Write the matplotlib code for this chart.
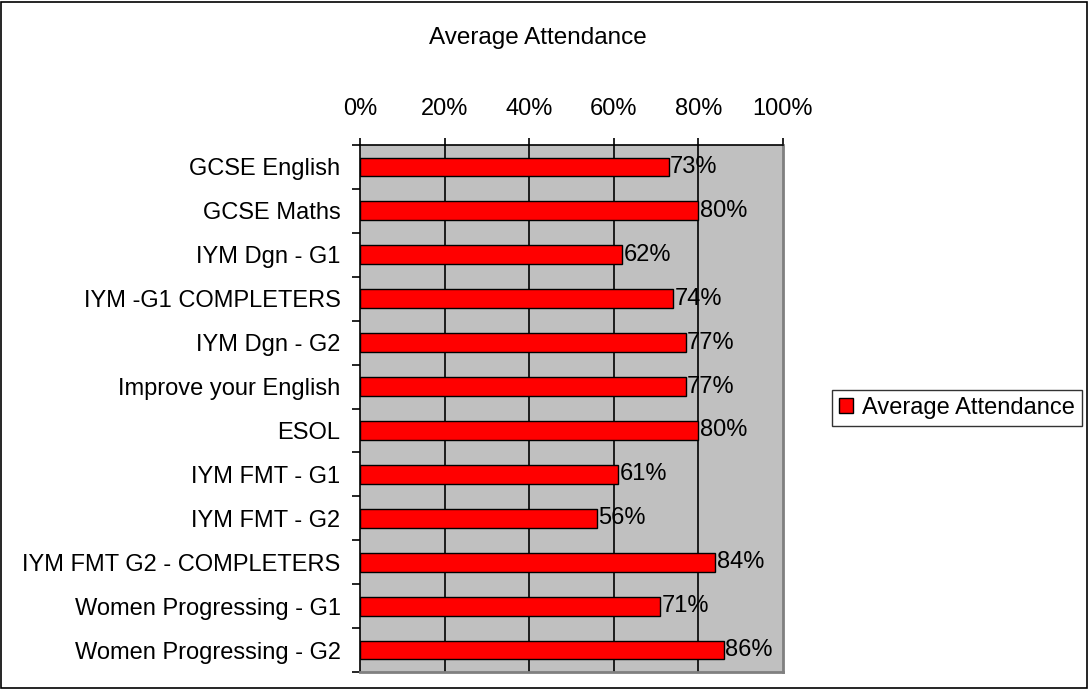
import matplotlib.pyplot as plt
from matplotlib.patches import Rectangle

plt.rcParams['font.family'] = ['Liberation Sans', 'DejaVu Sans']

courses = ['GCSE English', 'GCSE Maths', 'IYM Dgn - G1', 'IYM -G1 COMPLETERS',
           'IYM Dgn - G2', 'Improve your English', 'ESOL', 'IYM FMT - G1',
           'IYM FMT - G2', 'IYM FMT G2 - COMPLETERS', 'Women Progressing - G1',
           'Women Progressing - G2']
attendance = [73, 80, 62, 74, 77, 77, 80, 61, 56, 84, 71, 86]
ticks = [0, 20, 40, 60, 80, 100]

fs = 17

fig = plt.figure(figsize=(10.89, 6.89), dpi=100)
ax = fig.add_axes([360 / 1089, 1 - 672 / 689, 423 / 1089, 527 / 689])

ypos = list(range(len(courses)))
bars = ax.barh(ypos, attendance, height=0.43, color='#ff0000', edgecolor='black',
               linewidth=1, label='Average Attendance', zorder=3)
for y, v in zip(ypos, attendance):
    ax.text(v + 0.3, y, f'{v}%', va='center', ha='left', fontsize=fs, zorder=4)

ax.set_xlim(0, 100)
ax.set_ylim(len(courses) - 0.5, -0.5)
ax.set_facecolor('#c0c0c0')
ax.set_xticks(ticks)
ax.set_xticklabels([f'{t}%' for t in ticks], fontsize=fs)
ax.xaxis.tick_top()
ax.tick_params(axis='x', direction='out', length=5, width=1.2, pad=13, color='black')
ax.set_yticks([y - 0.5 for y in ypos] + [len(courses) - 0.5])
ax.set_yticklabels([])
ax.set_yticks(ypos, minor=True)
ax.set_yticklabels(courses, minor=True, fontsize=fs)
ax.tick_params(axis='y', which='major', direction='out', length=5.8, width=1.2)
ax.tick_params(axis='y', which='minor', length=0, pad=14)
for t in ticks[1:-1]:
    ax.axvline(t, color='black', linewidth=1.2, zorder=1)
ax.spines['left'].set_linewidth(1.2)
ax.spines['top'].set_linewidth(1.2)
ax.spines['right'].set_color('#808080')
ax.spines['bottom'].set_color('#808080')
ax.spines['right'].set_linewidth(2)
ax.spines['bottom'].set_linewidth(2)

fig.text(538 / 1089, 1 - 38 / 689, 'Average Attendance', ha='center', va='center', fontsize=17.5)

leg = fig.legend(handles=[bars], loc='center', bbox_to_anchor=(957 / 1089, 1 - 408 / 689),
                 fontsize=fs, frameon=True, fancybox=False, edgecolor='black',
                 handlelength=0.6, handleheight=0.6, handletextpad=0.4, borderpad=0.3,
                 borderaxespad=0)
leg.get_frame().set_linewidth(1)

fig.patches.append(Rectangle((1 / 1089, 1 / 689), 1086 / 1089, 686 / 689, transform=fig.transFigure,
                             fill=False, edgecolor='black', linewidth=1.2))

fig.savefig('out.png', dpi=100)
